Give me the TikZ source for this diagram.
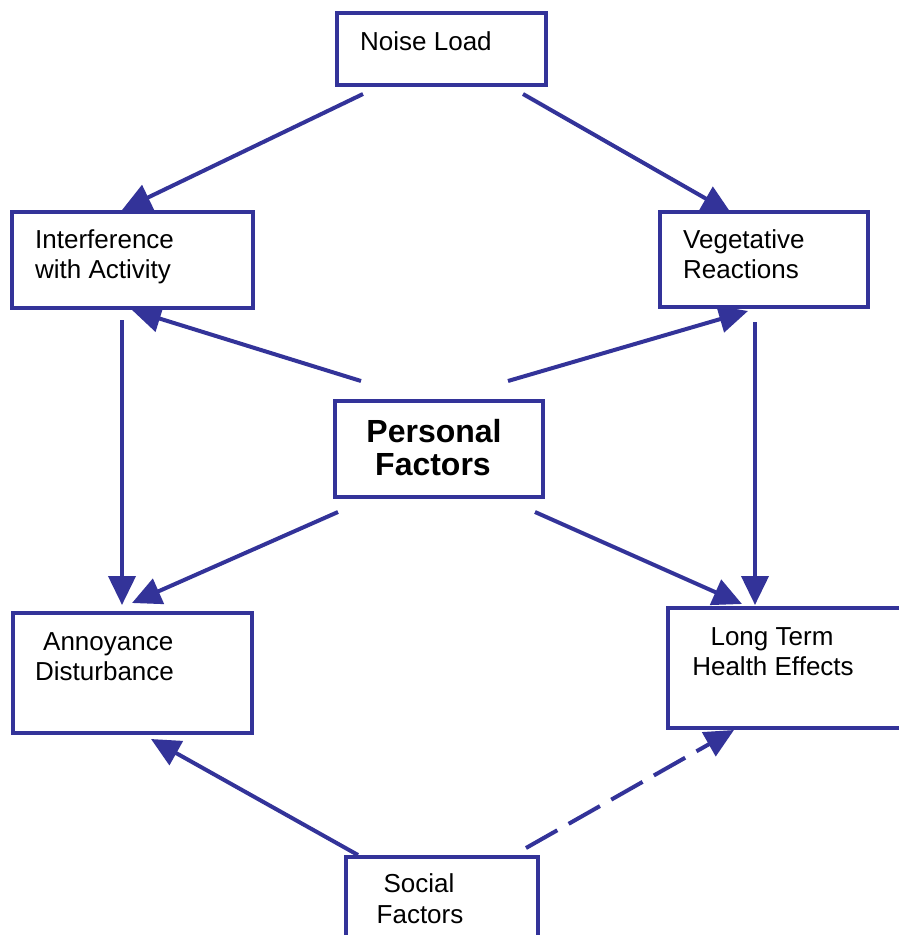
\documentclass[tikz,border=0pt]{standalone}
\usepackage{fontspec}
\setmainfont{Liberation Sans}
\usetikzlibrary{arrows.meta,calc}
\definecolor{navy}{RGB}{51,51,153}
\tikzset{
  box/.style={draw=navy, line width=4pt, fill=white, inner sep=0pt, rectangle},
  conn/.style={draw=navy, line width=4pt, -{Triangle[length=29pt,width=27pt]}},
  lbl/.style={inner sep=0pt, anchor=base west, font=\fontsize{26}{30}\selectfont},
  clbl/.style={inner sep=0pt, anchor=base, font=\fontsize{26}{30}\selectfont},
  blbl/.style={inner sep=0pt, anchor=base, font=\fontsize{32}{36}\selectfont\bfseries},
}
\begin{document}
\begin{tikzpicture}[x=1pt,y=-1pt]
\clip (0,0) rectangle (899,935);
\fill[white] (0,0) rectangle (899,935);
% box positions (boxes drawn again on top later)
\node[box, minimum width=209pt, minimum height=72pt] (noise) at (441.5,49) {};
\node[box, minimum width=241pt, minimum height=96pt] (interf) at (132.5,260) {};
\node[box, minimum width=208pt, minimum height=95pt] (veget) at (764,259.5) {};
\node[box, minimum width=208pt, minimum height=96pt] (personal) at (439,449) {};
\node[box, minimum width=239pt, minimum height=120pt] (annoy) at (132.5,673) {};
\node[box, minimum width=242pt, minimum height=120pt] (longt) at (789,668) {};
\node[box, minimum width=192pt, minimum height=103pt] (social) at (442,908.5) {};
% connectors
\draw[conn] ($(noise.south west)+(28,7)$) -- ($(interf.north west)+(112,0)$);
\draw[conn] ($(noise.south west)+(188,7)$) -- ($(veget.north west)+(73,3)$);
\draw[conn] ($(personal.north west)+(28,-18)$) -- ($(interf.south west)+(122,0)$);
\draw[conn] ($(personal.north west)+(175,-18)$) -- ($(veget.south west)+(90,2)$);
\draw[conn] ($(interf.south west)+(112,10)$) -- ($(annoy.north west)+(111,-6)$);
\draw[conn] ($(personal.south west)+(5,13)$) -- ($(annoy.north west)+(121,-8)$);
\draw[conn] ($(personal.south west)+(202,13)$) -- ($(longt.north west)+(76,-2)$);
\draw[conn] ($(veget.south west)+(97,13)$) -- ($(longt.north west)+(89,-1)$);
\draw[conn] ($(social.north west)+(14,0)$) -- ($(annoy.south west)+(140,4)$);
\draw[conn, dash pattern=on 36pt off 13pt] ($(social.north west)+(182,-7)$) -- ($(longt.south west)+(68,0)$);
% boxes on top
\node[box, minimum width=209pt, minimum height=72pt] at (noise) {};
\node[box, minimum width=241pt, minimum height=96pt] at (interf) {};
\node[box, minimum width=208pt, minimum height=95pt] at (veget) {};
\node[box, minimum width=208pt, minimum height=96pt] at (personal) {};
\node[box, minimum width=239pt, minimum height=120pt] at (annoy) {};
\node[box, minimum width=242pt, minimum height=120pt] at (longt) {};
\node[box, minimum width=192pt, minimum height=103pt] at (social) {};
% labels
\node[lbl] (t1) at (360,50) {Noise Load};
\node[lbl] (t2a) at (35,248) {Interference};
\node[lbl] (t2b) at (35,278) {with Activity};
\node[lbl] (t3a) at (683,248) {Vegetative};
\node[lbl] (t3b) at (683,278) {Reactions};
\node[blbl] (t4a) at (434,442) {Personal};
\node[blbl] (t4b) at (433,475) {Factors};
\node[lbl] (t5a) at (43,650) {Annoyance};
\node[lbl] (t5b) at (35,680) {Disturbance};
\node[clbl] (t6a) at (772,645) {Long Term};
\node[clbl] (t6b) at (773,675) {Health Effects};
\node[clbl] (t7a) at (419,892) {Social};
\node[clbl] (t7b) at (420,923) {Factors};
\end{tikzpicture}
\end{document}
